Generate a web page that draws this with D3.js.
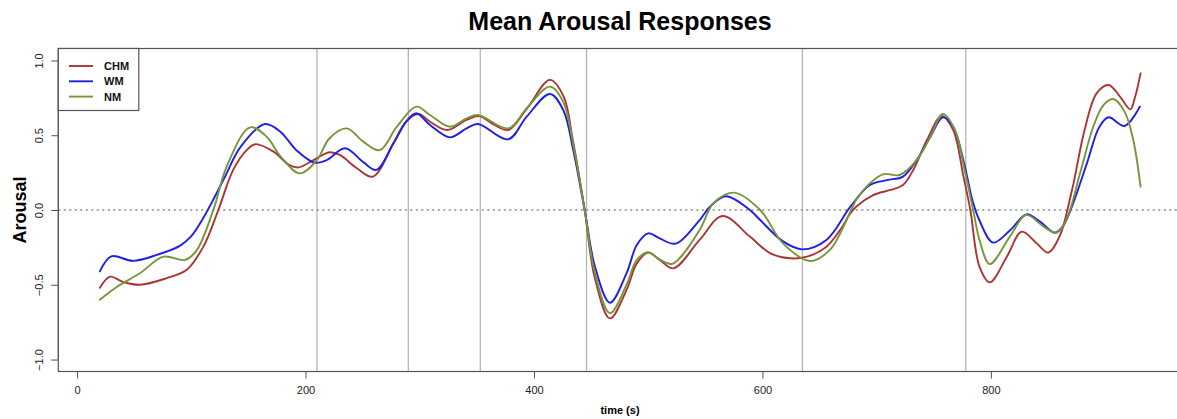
<!DOCTYPE html>
<html>
<head>
<meta charset="utf-8">
<script src="https://cdn.jsdelivr.net/npm/d3@7"></script>
<style>
  html, body { margin: 0; padding: 0; background: #fff; }
  svg { display: block; font-family: "Liberation Sans", Arial, Helvetica, sans-serif; }
</style>
</head>
<body>
<svg id="chart" width="1177" height="419"></svg>
<script>
// ---- data (time in seconds, arousal) ----
const seriesNames = ["CHM", "WM", "NM"];
const seriesColors = ["#ab3535", "#1f1fe6", "#77953a"];

const chm = [[20,-0.52],[29,-0.446],[40,-0.48],[55,-0.50],[78,-0.457],[96,-0.40],[110.6,-0.245],[123.7,0],[136.8,0.27],[148.5,0.40],[156,0.44],[172,0.39],[186,0.30],[194,0.285],[207,0.334],[221,0.386],[230,0.368],[245,0.279],[259,0.223],[277,0.446],[288,0.59],[299,0.642],[309,0.59],[324,0.535],[341,0.602],[352,0.628],[365,0.57],[377.5,0.535],[394,0.68],[414,0.87],[426,0.758],[434,0.468],[444.6,-0.01],[453,-0.446],[466.5,-0.725],[481,-0.535],[490,-0.357],[500,-0.285],[510,-0.334],[522,-0.39],[545,-0.20],[565,-0.04],[589,-0.178],[607,-0.29],[624,-0.323],[639,-0.312],[656,-0.245],[668,-0.134],[677,-0.022],[682,0.022],[697,0.10],[712,0.134],[723,0.167],[732,0.268],[744,0.468],[757,0.629],[767,0.535],[776,0.223],[782,0],[790,-0.379],[799,-0.484],[814,-0.312],[827,-0.145],[840,-0.223],[850,-0.285],[860,-0.178],[871,0.134],[882,0.535],[892.5,0.78],[903,0.836],[913,0.758],[922,0.673],[926,0.75],[931,0.914]];

const wm = [[20,-0.41],[30,-0.31],[49,-0.34],[70,-0.30],[90,-0.24],[100,-0.175],[110,-0.06],[120,0.08],[130,0.23],[143,0.42],[164.5,0.575],[178,0.524],[192,0.40],[208,0.316],[218.5,0.334],[234.6,0.413],[250.6,0.32],[262,0.268],[277,0.446],[289,0.60],[297,0.647],[309,0.569],[326.5,0.486],[341,0.546],[351,0.575],[377.5,0.473],[393.6,0.624],[414,0.776],[425.6,0.669],[434.4,0.40],[444.6,-0.01],[453.4,-0.379],[466.5,-0.62],[481,-0.424],[490,-0.234],[500,-0.156],[510,-0.19],[524,-0.225],[545,-0.067],[554,0.022],[568,0.092],[589,0],[598,-0.067],[618,-0.21],[635,-0.263],[656,-0.20],[677,0.022],[694,0.167],[709,0.20],[723,0.223],[735,0.334],[747,0.49],[758,0.62],[767,0.557],[776,0.33],[784,0.06],[790,-0.07],[802,-0.218],[817,-0.134],[831,-0.029],[843,-0.078],[856,-0.152],[863,-0.11],[872,0.045],[884,0.312],[895,0.557],[903,0.62],[917,0.562],[930.4,0.691]];

const nm = [[20,-0.60],[35,-0.513],[55,-0.423],[75.6,-0.312],[94.5,-0.334],[104.7,-0.27],[119.3,0],[131,0.29],[151.4,0.553],[166,0.49],[178,0.36],[195,0.245],[210,0.334],[221,0.48],[236,0.546],[250.6,0.457],[265,0.40],[280,0.557],[297,0.691],[309,0.635],[326.5,0.557],[341,0.613],[351,0.635],[377.5,0.546],[393.6,0.68],[414,0.825],[425.6,0.724],[434.4,0.435],[444.6,-0.01],[453.4,-0.424],[466.5,-0.69],[481,-0.50],[490,-0.334],[500,-0.283],[510,-0.33],[521,-0.36],[545,-0.134],[557,0.045],[575,0.116],[598,0],[618,-0.223],[641.6,-0.341],[659,-0.267],[677,-0.011],[682,0.067],[694,0.178],[706,0.24],[720,0.234],[735,0.334],[747,0.49],[758,0.642],[768.5,0.535],[777,0.268],[784.5,0],[790,-0.20],[799,-0.361],[816.6,-0.178],[831,-0.033],[846,-0.11],[857.5,-0.152],[866,-0.067],[878,0.245],[889.6,0.557],[898.4,0.70],[907,0.742],[917,0.658],[924.6,0.468],[931,0.156]];

const seriesData = [chm, wm, nm];
const markerTimes = [210, 290, 353, 446, 635, 778];
const xTicks = [0, 200, 400, 600, 800];
const yTicks = [-1.0, -0.5, 0.0, 0.5, 1.0];
const title = "Mean Arousal Responses";
const xLabel = "time (s)";
const yLabel = "Arousal";

// ---- layout ----
const svg = d3.select("#chart");
const plot = { left: 58.3, right: 1181, top: 48.5, bottom: 371.5 };
const x = d3.scaleLinear().domain([-16.4, 966.4]).range([plot.left, plot.right]);
const y = d3.scaleLinear().domain([-1.08, 1.08]).range([plot.bottom, plot.top]);

svg.append("defs").append("clipPath").attr("id", "clip")
  .append("rect").attr("x", plot.left).attr("y", plot.top)
  .attr("width", plot.right - plot.left).attr("height", plot.bottom - plot.top);

// title
svg.append("text").attr("x", 620).attr("y", 30)
  .attr("text-anchor", "middle").attr("font-size", 25).attr("font-weight", "bold")
  .attr("fill", "#000").text(title);

// vertical marker lines
svg.append("g").attr("clip-path", "url(#clip)").selectAll("line").data(markerTimes).join("line")
  .attr("x1", d => x(d)).attr("x2", d => x(d))
  .attr("y1", plot.top).attr("y2", plot.bottom)
  .attr("stroke", "#b5b5b5").attr("stroke-width", 1.3);

// zero line dotted
svg.append("line").attr("x1", plot.left).attr("x2", plot.right)
  .attr("y1", y(0)).attr("y2", y(0))
  .attr("stroke", "#8a8a8a").attr("stroke-width", 1.3).attr("stroke-dasharray", "2,3.5");

// series lines
const line = d3.line().x(d => x(d[0])).y(d => y(d[1])).curve(d3.curveCatmullRom.alpha(0.5));
svg.append("g").attr("clip-path", "url(#clip)").selectAll("path").data(seriesData).join("path")
  .attr("d", d => line(d)).attr("fill", "none")
  .attr("stroke", (d, i) => seriesColors[i]).attr("stroke-width", 1.9)
  .attr("stroke-linejoin", "round").attr("stroke-linecap", "round");

// box
svg.append("rect").attr("x", plot.left).attr("y", plot.top)
  .attr("width", plot.right - plot.left).attr("height", plot.bottom - plot.top)
  .attr("fill", "none").attr("stroke", "#555").attr("stroke-width", 1.2);

// x axis
const xAxis = d3.axisBottom(x).tickValues(xTicks).tickSize(7).tickPadding(8).tickFormat(d3.format("d"));
const gx = svg.append("g").attr("transform", `translate(0,${plot.bottom})`).call(xAxis);
gx.select(".domain").attr("d", `M${x(xTicks[0])},0H${x(xTicks[xTicks.length-1])}`).attr("stroke", "#555");
gx.selectAll(".tick line").attr("stroke", "#555");
gx.selectAll(".tick text").attr("font-size", 11).attr("fill", "#222")
  .attr("font-family", "'Liberation Sans', Arial, sans-serif");

// y axis
const yAxis = d3.axisLeft(y).tickValues(yTicks).tickSize(7)
  .tickFormat(d => d3.format(".1f")(d).replace("-", "\u2212"));
const gy = svg.append("g").attr("transform", `translate(${plot.left},0)`).call(yAxis);
gy.select(".domain").attr("d", `M0,${y(yTicks[0])}V${y(yTicks[yTicks.length-1])}`).attr("stroke", "#555");
gy.selectAll(".tick line").attr("stroke", "#555");
gy.selectAll(".tick text").attr("font-size", 11).attr("fill", "#222")
  .attr("font-family", "'Liberation Sans', Arial, sans-serif")
  .attr("x", null).attr("dy", null)
  .attr("text-anchor", "middle")
  .attr("transform", "translate(-19,0) rotate(-90)")
  .attr("dy", "0.35em");

// axis labels
svg.append("text").attr("x", 620).attr("y", 414)
  .attr("text-anchor", "middle").attr("font-size", 11).attr("font-weight", "bold").text(xLabel);
svg.append("text").attr("transform", `translate(26,${y(0)}) rotate(-90)`)
  .attr("text-anchor", "middle").attr("font-size", 18).attr("font-weight", "bold").text(yLabel);

// legend
const lg = svg.append("g");
lg.append("rect").attr("x", plot.left).attr("y", plot.top)
  .attr("width", 80.5).attr("height", 62).attr("fill", "#fff")
  .attr("stroke", "#555").attr("stroke-width", 1.2);
const items = lg.selectAll("g.item").data(seriesNames).join("g").attr("class", "item")
  .attr("transform", (d, i) => `translate(0,${66 + i * 15.3})`);
items.append("line").attr("x1", 69).attr("x2", 93).attr("y1", 0).attr("y2", 0)
  .attr("stroke", (d, i) => seriesColors[i]).attr("stroke-width", 1.9);
items.append("text").attr("x", 104).attr("y", 0).attr("dy", "0.36em")
  .attr("font-size", 11).attr("font-weight", "bold").attr("fill", "#111").text(d => d);
</script>
</body>
</html>
